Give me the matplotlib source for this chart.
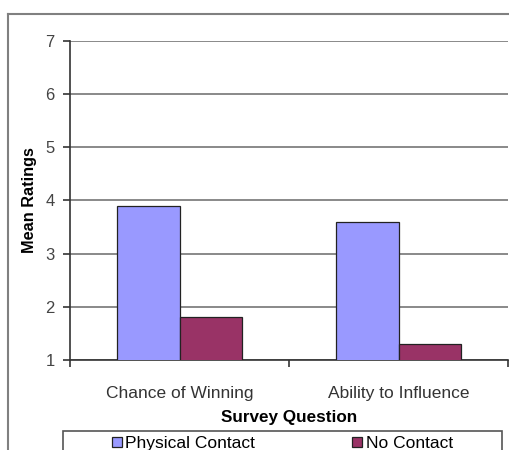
import matplotlib
matplotlib.use("Agg")
import matplotlib.pyplot as plt
import numpy as np
from matplotlib.lines import Line2D
from matplotlib.patches import Rectangle

categories = ["Chance of Winning", "Ability to Influence"]
series_names = ["Physical Contact", "No Contact"]
physical_contact = [3.9, 3.6]
no_contact = [1.8, 1.3]
yticks = [1, 2, 3, 4, 5, 6, 7]

colors = ["#9999FF", "#993366"]

plt.rcParams['font.family'] = ['Liberation Sans', 'DejaVu Sans']

W, H = 509, 450
fig = plt.figure(figsize=(W / 100, H / 100), dpi=100)
fig.patch.set_facecolor("white")

ax = fig.add_axes([70 / W, 1 - 360 / H, 438 / W, 319.3 / H])

x = np.arange(len(categories))
bw = 1 / 3.5
for i, (vals, name) in enumerate(zip([physical_contact, no_contact], series_names)):
    ax.bar(x + (i - 0.5) * bw, vals, width=bw, color=colors[i], edgecolor="#222222",
           linewidth=0.9, label=name, zorder=3)

ax.set_ylim(1, 7)
ax.set_xlim(-0.5, 1.5)
ax.set_yticks(yticks)
ax.yaxis.grid(True, color="#808080", linewidth=1.3, zorder=0)
ax.set_axisbelow(True)
for s in ["top", "right"]:
    ax.spines[s].set_visible(False)
for s in ["left", "bottom"]:
    ax.spines[s].set_color("#333333")
    ax.spines[s].set_linewidth(1.2)

ax.tick_params(axis="y", direction="out", length=5, width=1.2, color="#333333",
               labelsize=12, labelcolor="#444444", pad=6)
ax.set_xticks(x)
ax.set_xticklabels(categories, fontsize=12.5, color="#333333")
ax.tick_params(axis="x", which="major", length=0, pad=19)
ax.set_xticks([-0.5, 0.5, 1.5], minor=True)
ax.tick_params(axis="x", which="minor", direction="out", length=5, width=1.2, color="#333333")

ax.set_xlabel("Survey Question", fontsize=12.3, fontweight="bold", labelpad=6)
ax.set_ylabel("Mean Ratings", fontsize=11.7, fontweight="bold", labelpad=6)

# outer chart frame
fig.add_artist(Line2D([8 / W, 1.0], [1 - 14 / H, 1 - 14 / H], color="#808080", lw=1.5))
fig.add_artist(Line2D([8 / W, 8 / W], [1 - 14 / H, 0], color="#808080", lw=1.5))

# legend box
fig.add_artist(Rectangle((63 / W, -0.05), (502 - 63) / W, (0.05 + 1 - 431 / H),
                         transform=fig.transFigure, facecolor="white",
                         edgecolor="#555555", lw=1.2, zorder=1))
leg = fig.legend(loc="upper center", bbox_to_anchor=(282.5 / W, 1 - 436 / H), ncol=2,
                 frameon=False, fontsize=12.5, handlelength=0.55, handleheight=0.55,
                 handletextpad=0.2, columnspacing=5.6, borderpad=0, borderaxespad=0)
leg.set_zorder(2)

fig.savefig("out.png", dpi=100)
